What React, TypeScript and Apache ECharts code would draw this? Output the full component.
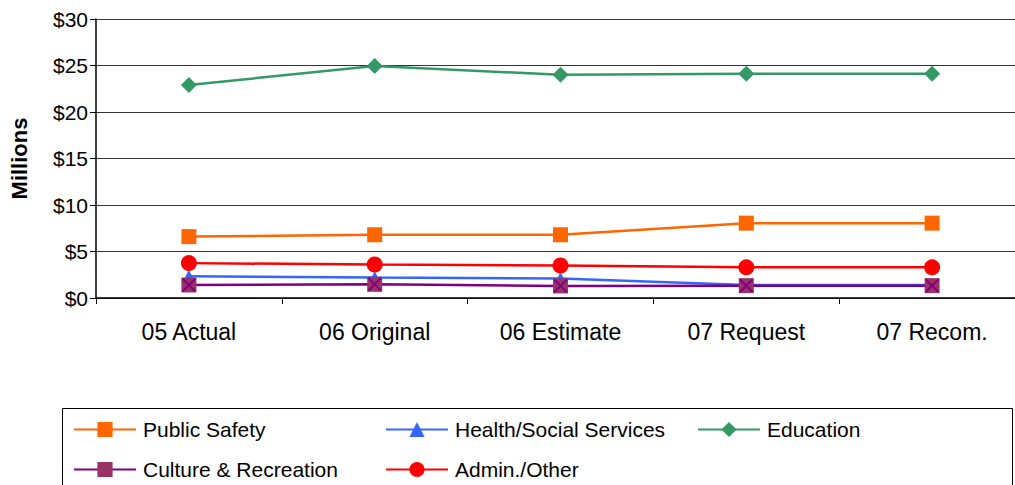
import React, { useEffect, useRef } from "react";
import * as echarts from "echarts";

const categories = ["05 Actual", "06 Original", "06 Estimate", "07 Request", "07 Recom."];
const yTicks = [0, 5, 10, 15, 20, 25, 30];
const publicSafety = [6.6, 6.8, 6.8, 8.05, 8.05];
const healthSocial = [2.35, 2.2, 2.1, 1.4, 1.4];
const education = [22.9, 24.95, 24.0, 24.1, 24.1];
const cultureRec = [1.4, 1.47, 1.3, 1.33, 1.33];
const adminOther = [3.75, 3.6, 3.5, 3.3, 3.3];

const FONT = "Liberation Sans, Arial, sans-serif";
const X_PATH = "path://M0,1L1,0L5,4L9,0L10,1L6,5L10,9L9,10L5,6L1,10L0,9L4,5Z";

export default function App() {
  const ref = useRef<HTMLDivElement>(null);
  useEffect(() => {
    document.body.style.margin = "0";
    document.body.style.overflow = "hidden";
    const chart = echarts.init(ref.current!, null, { renderer: "svg" });
    const legendItem = (name: string, left: number, top: number) => ({
      data: [name],
      left,
      top,
      padding: 0,
      itemWidth: 62,
      itemHeight: 19,
      selectedMode: false,
      textStyle: { fontFamily: FONT, fontSize: 21, color: "#000", padding: [0, 0, 0, 2] },
    });
    chart.setOption({
      animation: false,
      grid: { left: 96, top: 19, right: -10, bottom: 187, outerBoundsMode: "none", containLabel: false },
      xAxis: {
        type: "category",
        data: categories,
        boundaryGap: true,
        axisLine: { lineStyle: { color: "#000", width: 1.5 } },
        axisTick: { show: true, length: 6, lineStyle: { color: "#000" } },
        axisLabel: { fontFamily: FONT, fontSize: 23, color: "#000", margin: 22 },
      },
      yAxis: {
        type: "value",
        min: 0,
        max: 30,
        interval: 5,
        name: "Millions",
        nameLocation: "middle",
        nameGap: 66,
        nameRotate: 90,
        nameTextStyle: { fontFamily: FONT, fontSize: 22, fontWeight: "bold", color: "#000" },
        axisLine: { show: true, lineStyle: { color: "#000", width: 1.5 } },
        axisTick: { show: true, length: 6, lineStyle: { color: "#000" } },
        axisLabel: {
          fontFamily: FONT,
          fontSize: 21,
          color: "#000",
          margin: 8,
          formatter: (v: number) => (yTicks.includes(v) ? "$" + v : ""),
        },
        splitLine: { show: true, lineStyle: { color: "#333", width: 1 } },
      },
      legend: [
        legendItem("Public Safety", 73, 419),
        legendItem("Health/Social Services", 385, 419),
        legendItem("Education", 697, 419),
        legendItem("Culture & Recreation", 73, 459),
        legendItem("Admin./Other", 385, 459),
      ],
      graphic: [
        {
          type: "rect",
          shape: { x: 62.5, y: 408.5, width: 950, height: 120 },
          style: { fill: "none", stroke: "#000", lineWidth: 1 },
          silent: true,
        },
      ],
      series: [
        {
          name: "Public Safety",
          type: "line",
          data: publicSafety,
          symbol: "rect",
          symbolSize: 15,
          color: "#FF6600",
          lineStyle: { width: 2.5, color: "#FF6600" },
          itemStyle: { color: "#FF6600" },
        },
        {
          name: "Health/Social Services",
          type: "line",
          data: healthSocial,
          symbol: "triangle",
          symbolSize: 13,
          color: "#3366FF",
          lineStyle: { width: 2.5, color: "#3366FF" },
          itemStyle: { color: "#3366FF" },
        },
        {
          name: "Education",
          type: "line",
          data: education,
          symbol: "diamond",
          symbolSize: 16,
          color: "#339966",
          lineStyle: { width: 2.5, color: "#339966" },
          itemStyle: { color: "#339966" },
        },
        {
          name: "Culture & Recreation",
          type: "line",
          data: cultureRec,
          symbol: "rect",
          symbolSize: 15,
          color: "#800080",
          lineStyle: { width: 2.5, color: "#800080" },
          itemStyle: { color: "#993366" },
        },
        {
          name: "CultureX",
          type: "line",
          data: cultureRec,
          symbol: X_PATH,
          symbolSize: 14,
          lineStyle: { opacity: 0 },
          itemStyle: { color: "#800080" },
          silent: true,
        },
        {
          name: "Admin./Other",
          type: "line",
          data: adminOther,
          symbol: "circle",
          symbolSize: 16,
          color: "#FF0000",
          lineStyle: { width: 2.5, color: "#FF0000" },
          itemStyle: { color: "#FF0000" },
        },
      ],
    });
    return () => chart.dispose();
  }, []);
  return <div ref={ref} style={{ width: 1015, height: 485 }} />;
}
